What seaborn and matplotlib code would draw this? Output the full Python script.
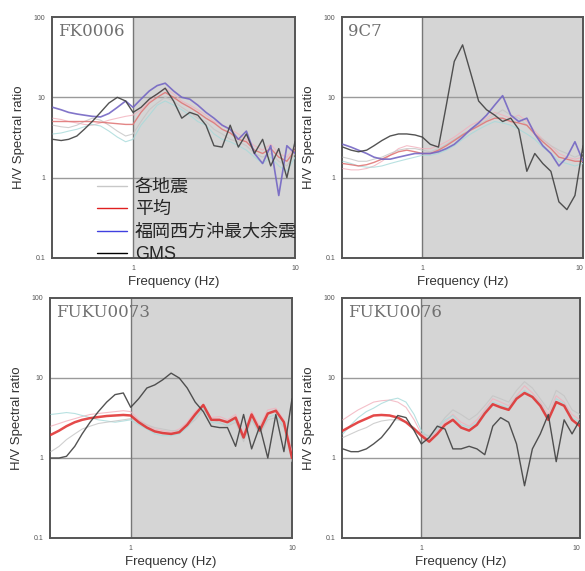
import numpy as np
import pandas as pd
import matplotlib
matplotlib.use("Agg")
import matplotlib.pyplot as plt
from matplotlib.lines import Line2D
import seaborn as sns

# frequency grid (Hz) shared by all curves
freq = [0.32, 0.36, 0.40, 0.45, 0.50, 0.56, 0.63, 0.71, 0.80, 0.90, 1.00,
        1.12, 1.26, 1.41, 1.58, 1.78, 2.00, 2.24, 2.51, 2.82, 3.16, 3.55,
        3.98, 4.47, 5.01, 5.62, 6.31, 7.08, 7.94, 8.91, 10.0]

stations = ["FK0006", "9C7", "FUKU0073", "FUKU0076"]

# --- FK0006 ---
fk0006_eq1 = [5.5, 5.3, 5.0, 4.8, 4.6, 4.5, 4.8, 5.2, 5.5, 5.8, 6.0, 7.0, 9.0, 11.0, 13.0, 11.0,
              9.0, 8.0, 7.0, 6.0, 5.0, 4.5, 4.0, 3.5, 3.0, 2.5, 2.2, 2.6, 2.0, 1.8, 2.4]
fk0006_eq2 = [3.5, 3.6, 3.8, 4.0, 4.3, 4.6, 4.4, 3.8, 3.2, 2.8, 3.0, 4.5, 6.0, 8.0, 9.0, 8.0,
              7.0, 6.0, 5.0, 4.5, 3.5, 3.0, 2.8, 2.5, 2.2, 1.8, 1.5, 1.8, 1.4, 1.2, 1.8]
fk0006_eq3 = [4.5, 4.3, 4.2, 4.5, 5.0, 5.5, 5.2, 4.5, 3.8, 3.3, 3.5, 5.0, 7.0, 8.5, 10.0, 9.0,
              7.5, 6.5, 5.5, 5.0, 4.0, 3.5, 3.0, 2.8, 2.5, 2.0, 1.8, 2.0, 1.6, 1.4, 2.0]
fk0006_mean = [5.0, 5.0, 5.0, 5.0, 5.0, 5.0, 4.9, 4.8, 4.7, 4.6, 4.6, 6.5, 8.5, 10.0, 11.5, 10.0,
               8.5, 7.5, 6.5, 5.5, 4.8, 4.0, 3.6, 3.0, 2.8, 2.2, 2.0, 2.3, 1.8, 1.6, 2.2]
fk0006_fuk = [7.5, 7.0, 6.5, 6.2, 6.0, 5.8, 5.7, 6.3, 7.5, 9.0, 7.5, 9.5, 12.0, 14.0, 15.0, 12.0,
              10.0, 9.5, 8.0, 6.5, 5.5, 4.5, 4.0, 3.0, 3.8, 2.0, 1.5, 2.5, 0.6, 2.5, 2.0]
fk0006_gms = [3.0, 2.9, 3.0, 3.3, 4.0, 5.0, 6.5, 8.5, 10.0, 9.0, 6.5, 7.5, 9.5, 11.0, 13.0, 9.0,
              5.5, 6.5, 6.0, 4.5, 2.5, 2.4, 4.5, 2.4, 3.5, 2.0, 3.0, 1.4, 2.3, 1.0, 2.8]

# --- 9C7 ---
c9c7_eq1 = [1.3, 1.25, 1.25, 1.3, 1.4, 1.6, 1.9, 2.3, 2.5, 2.4, 2.3, 2.3, 2.5, 2.8, 3.2, 3.8,
            4.5, 5.0, 5.5, 6.5, 6.0, 5.5, 6.0, 5.0, 3.8, 3.0, 2.5, 2.0, 1.8, 1.7, 1.8]
c9c7_eq2 = [1.6, 1.5, 1.4, 1.35, 1.35, 1.4, 1.5, 1.6, 1.7, 1.8, 1.9, 1.9, 2.0, 2.2, 2.5, 3.0,
            3.5, 4.0, 4.5, 5.0, 4.8, 4.5, 4.0, 3.5, 3.0, 2.4, 2.0, 1.6, 1.5, 1.4, 1.5]
c9c7_eq3 = [1.8, 1.7, 1.6, 1.6, 1.7, 1.8, 2.0, 2.2, 2.3, 2.3, 2.2, 2.1, 2.3, 2.6, 3.0, 3.5,
            4.0, 4.6, 5.2, 6.0, 7.0, 6.0, 5.5, 4.5, 3.5, 3.0, 2.5, 2.2, 2.0, 1.8, 2.0]
c9c7_mean = [1.5, 1.45, 1.4, 1.45, 1.55, 1.7, 1.9, 2.1, 2.2, 2.1, 2.0, 2.0, 2.2, 2.5, 2.9, 3.4,
             3.9, 4.4, 5.0, 5.5, 5.5, 5.0, 4.8, 4.5, 3.5, 2.8, 2.3, 1.8, 1.7, 1.6, 1.6]
c9c7_fuk = [2.6, 2.4, 2.2, 2.0, 1.8, 1.7, 1.7, 1.8, 1.9, 2.0, 2.0, 2.0, 2.1, 2.3, 2.6, 3.2,
            4.0, 4.8, 6.0, 8.0, 10.5, 6.0, 5.0, 5.5, 3.5, 2.5, 2.0, 1.4, 1.8, 2.8, 1.6]
c9c7_gms = [2.4, 2.2, 2.1, 2.2, 2.5, 2.9, 3.3, 3.5, 3.5, 3.4, 3.2, 2.6, 2.4, 8.0, 28.0, 45.0,
            20.0, 9.0, 7.0, 6.0, 5.0, 5.5, 4.0, 1.2, 2.0, 1.5, 1.2, 0.5, 0.4, 0.6, 2.5]

# --- FUKU0073 ---
f0073_eq1 = [2.5, 2.7, 2.9, 3.1, 3.3, 3.5, 3.6, 3.7, 3.8, 3.9, 3.8, 3.0, 2.6, 2.3, 2.2, 2.1,
             2.3, 2.8, 3.8, 4.5, 3.2, 3.3, 3.0, 3.5, 2.0, 3.8, 2.5, 4.0, 4.2, 3.0, 1.2]
f0073_eq2 = [3.5, 3.6, 3.7, 3.6, 3.4, 3.2, 3.0, 2.9, 2.8, 2.9, 3.0, 2.6, 2.3, 2.0, 1.9, 1.9,
             2.0, 2.4, 3.2, 4.2, 2.8, 2.7, 2.6, 3.0, 1.7, 3.0, 2.0, 3.2, 3.5, 2.5, 1.0]
f0073_eq3 = [1.2, 1.4, 1.7, 2.0, 2.3, 2.5, 2.7, 2.8, 2.9, 3.0, 3.1, 2.9, 2.6, 2.4, 2.3, 2.2,
             2.2, 2.5, 3.0, 4.0, 3.0, 2.8, 2.5, 2.8, 1.6, 3.0, 2.0, 3.0, 3.2, 2.4, 0.9]
f0073_mean = [1.95, 2.2, 2.5, 2.8, 3.0, 3.15, 3.25, 3.35, 3.4, 3.45, 3.4, 2.8, 2.4, 2.15, 2.05, 2.0,
              2.1, 2.6, 3.5, 4.6, 3.0, 3.0, 2.8, 3.2, 1.8, 3.5, 2.2, 3.6, 3.9, 2.8, 1.0]
f0073_gms = [1.0, 1.0, 1.05, 1.4, 2.0, 2.8, 3.8, 5.0, 6.2, 6.5, 4.3, 5.5, 7.5, 8.2, 9.5, 11.5,
             10.0, 7.5, 5.0, 3.8, 2.5, 2.4, 2.4, 1.4, 3.5, 1.3, 2.5, 1.0, 3.5, 1.2, 5.5]

# --- FUKU0076 ---
f0076_eq1 = [3.0, 3.5, 4.0, 4.5, 5.0, 5.2, 5.3, 5.0, 4.3, 3.0, 2.0, 1.7, 2.2, 2.8, 3.5, 2.8,
             2.5, 3.0, 4.0, 5.5, 5.0, 4.5, 6.0, 8.0, 6.5, 5.0, 3.5, 6.0, 5.0, 3.5, 3.0]
f0076_eq2 = [2.0, 2.6, 3.2, 3.8, 4.2, 4.8, 5.3, 5.6, 5.0, 3.5, 2.2, 1.8, 2.3, 3.0, 3.4, 2.6,
             2.4, 2.8, 3.8, 5.0, 4.6, 4.2, 5.8, 7.0, 6.0, 4.8, 3.2, 5.5, 4.8, 3.2, 2.8]
f0076_eq3 = [1.8, 2.0, 2.2, 2.4, 2.7, 2.9, 3.0, 3.0, 2.8, 2.4, 2.0, 1.9, 2.4, 3.2, 4.0, 3.5,
             3.0, 3.5, 4.5, 6.0, 5.5, 5.0, 7.0, 9.0, 7.5, 5.5, 4.0, 7.0, 6.0, 4.0, 3.5]
f0076_mean = [2.2, 2.5, 2.8, 3.1, 3.4, 3.45, 3.4, 3.2, 2.8, 2.3, 1.9, 1.6, 2.0, 2.6, 3.0, 2.4,
              2.2, 2.6, 3.6, 4.7, 4.3, 4.0, 5.5, 6.5, 5.8, 4.5, 3.0, 5.0, 4.5, 3.0, 2.5]
f0076_gms = [1.3, 1.2, 1.2, 1.3, 1.5, 1.8, 2.4, 3.4, 3.2, 2.2, 1.5, 1.8, 2.5, 2.3, 1.3, 1.3,
             1.4, 1.3, 1.1, 2.5, 3.2, 2.8, 1.5, 0.45, 1.3, 2.0, 3.5, 0.9, 3.0, 2.0, 3.0]

panels = [
    {"eq1": fk0006_eq1, "eq2": fk0006_eq2, "eq3": fk0006_eq3,
     "mean": fk0006_mean, "fuk": fk0006_fuk, "gms": fk0006_gms},
    {"eq1": c9c7_eq1, "eq2": c9c7_eq2, "eq3": c9c7_eq3,
     "mean": c9c7_mean, "fuk": c9c7_fuk, "gms": c9c7_gms},
    {"eq1": f0073_eq1, "eq2": f0073_eq2, "eq3": f0073_eq3,
     "mean": f0073_mean, "gms": f0073_gms},
    {"eq1": f0076_eq1, "eq2": f0076_eq2, "eq3": f0076_eq3,
     "mean": f0076_mean, "gms": f0076_gms},
]

sns.set_style("white")
plt.rcParams["font.family"] = ["Liberation Sans", "Noto Sans CJK JP", "DejaVu Sans"]

# style for each curve: colour, width, alpha
styles_top = {"eq1": ("#f2b0bc", 0.8, 0.8), "eq2": ("#a6dada", 0.8, 0.8),
              "eq3": ("#c4c4c4", 0.8, 0.8), "mean": ("#e07878", 1.0, 0.9),
              "fuk": ("#7466c4", 1.2, 0.9), "gms": ("#404040", 1.0, 0.9)}
styles_bottom = dict(styles_top, mean=("#e02a2a", 1.8, 0.85))

fig = plt.figure(figsize=(5.85, 5.71), dpi=100)
positions = [
    [52 / 585, 1 - 258 / 571, 243 / 585, 241 / 571],
    [342 / 585, 1 - 258 / 571, 241 / 585, 241 / 571],
    [50 / 585, 1 - 538 / 571, 242 / 585, 240 / 571],
    [342 / 585, 1 - 538 / 571, 238 / 585, 240 / 571],
]

for i, (name, curves) in enumerate(zip(stations, panels)):
    ax = fig.add_axes(positions[i])
    styles = styles_top if i < 2 else styles_bottom
    ax.axvspan(1, 10, color="#d5d5d5", zorder=0, lw=0)
    for v in (1, 10):
        ax.axhline(v, color="#9a9a9a", lw=1.0, zorder=1)
    ax.axvline(1, color="#777777", lw=1.0, zorder=1)

    for key, vals in curves.items():
        col, lw, al = styles[key]
        df = pd.DataFrame({"freq": freq, "hv": vals})
        sns.lineplot(data=df, x="freq", y="hv", ax=ax, color=col, lw=lw,
                     alpha=al, estimator=None, sort=False, zorder=3)

    ax.set_xscale("log")
    ax.set_yscale("log")
    ax.set_xlim(0.316, 10)
    ax.set_ylim(0.1, 100)
    ax.set_yticks([0.1, 1, 10, 100])
    ax.set_yticklabels(["0.1", "1", "10", "100"])
    ax.set_xticks([1, 10])
    ax.set_xticklabels(["1", "10"])
    if i % 2 == 1:
        # right-hand panels reach the figure edge
        ax.get_xticklabels()[-1].set_horizontalalignment("right")
    ax.tick_params(axis="both", which="major", labelsize=5, colors="#555555",
                   length=3, width=0.8, direction="out", pad=2)
    ax.tick_params(axis="both", which="minor", length=1.5, width=0.5,
                   colors="#777777", direction="out")
    ax.set_xlabel("Frequency (Hz)", fontsize=9.5, color="#333333", labelpad=3)
    ax.set_ylabel("H/V Spectral ratio", fontsize=9.5, color="#333333", labelpad=6)
    for sp in ax.spines.values():
        sp.set_color("#555555")
        sp.set_linewidth(1.4)
    ax.text(0.025, 0.975, name, transform=ax.transAxes, ha="left", va="top",
            fontsize=12, color="#707070", family=["DejaVu Serif"], zorder=5)

handles = [Line2D([], [], color="#c8c8c8", lw=1.0),
           Line2D([], [], color="#e02020", lw=1.0),
           Line2D([], [], color="#4040e0", lw=1.0),
           Line2D([], [], color="#000000", lw=1.0)]
labels = ["各地震", "平均", "福岡西方沖最大余震", "GMS"]
fig.legend(handles, labels, loc="upper left", bbox_to_anchor=(97 / 585, 1 - 179 / 571),
           frameon=False, fontsize=13, handlelength=1.66, handletextpad=0.44,
           labelspacing=0.3, borderpad=0, borderaxespad=0)

fig.savefig("out.png", dpi=100)
